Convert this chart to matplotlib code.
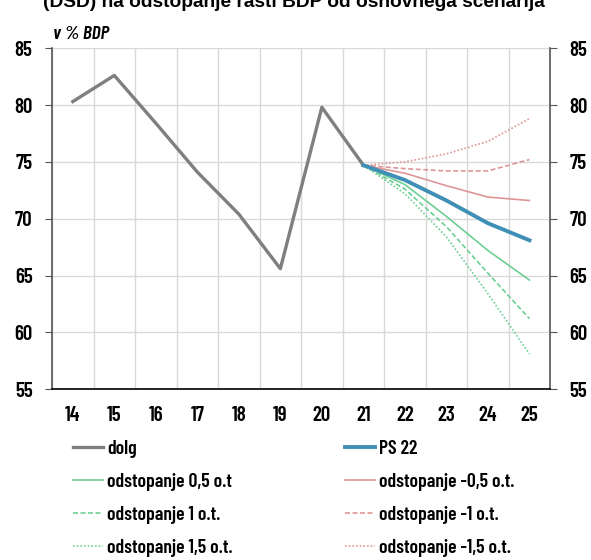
import matplotlib
matplotlib.use('Agg')
from matplotlib import pyplot as plt
import numpy as np

plt.rcParams['font.family'] = ['Barlow Condensed', 'DejaVu Sans']
plt.rcParams['font.weight'] = 500

years = ['14', '15', '16', '17', '18', '19', '20', '21', '22', '23', '24', '25']
dolg = [80.3, 82.6, 78.4, 74.1, 70.4, 65.6, 79.8, 74.7]
proj_years = ['21', '22', '23', '24', '25']
ps22 = [74.7, 73.4, 71.6, 69.6, 68.1]
gor_05 = [74.7, 73.0, 70.2, 67.2, 64.6]
gor_1 = [74.7, 72.6, 69.3, 65.2, 61.2]
gor_15 = [74.7, 72.2, 68.4, 63.4, 58.1]
dol_05 = [74.7, 74.0, 72.9, 71.9, 71.6]
dol_1 = [74.7, 74.4, 74.2, 74.2, 75.2]
dol_15 = [74.7, 75.0, 75.7, 76.8, 78.8]

siva = '#7f7f7f'
modra = '#3f8fb6'
zelena = '#6dcf93'
rdeca = '#de9696'

fig = plt.figure(figsize=(5.91, 5.6), dpi=100)
ax = fig.add_axes([0.088, 0.305, 0.843, 0.609])

x = np.arange(len(years))
xp = np.arange(years.index(proj_years[0]), len(years))

l_dolg, = ax.plot(x[:len(dolg)], dolg, color=siva, lw=2.4, label='dolg')
l_g05, = ax.plot(xp, gor_05, color=zelena, lw=1.2, label='odstopanje 0,5 o.t')
l_g1, = ax.plot(xp, gor_1, color=zelena, lw=1.2, ls=(0, (3, 1.5)), label='odstopanje 1 o.t.')
l_g15, = ax.plot(xp, gor_15, color=zelena, lw=1.2, ls=(0, (1, 1.2)), label='odstopanje 1,5 o.t.')
l_d05, = ax.plot(xp, dol_05, color=rdeca, lw=1.2, label='odstopanje -0,5 o.t.')
l_d1, = ax.plot(xp, dol_1, color=rdeca, lw=1.2, ls=(0, (3, 1.5)), label='odstopanje -1 o.t.')
l_d15, = ax.plot(xp, dol_15, color=rdeca, lw=1.2, ls=(0, (1, 1.2)), label='odstopanje -1,5 o.t.')
l_ps, = ax.plot(xp, ps22, color=modra, lw=2.8, label='PS 22')

ax.set_xlim(-0.5, 11.5)
ax.set_ylim(55, 85)
ax.set_yticks(np.arange(55, 86, 5))
ax.set_xticks(x)
ax.set_xticklabels(years)
ax.set_xticks(np.arange(-0.5, 12, 1), minor=True)
ax.grid(True, which='minor', axis='x', color='#d9d9d9', lw=1)
ax.grid(True, which='major', axis='y', color='#d9d9d9', lw=1)
ax.tick_params(axis='x', which='both', length=0, labelsize=15, pad=12)
ax.tick_params(axis='y', which='major', length=5, labelsize=15, color='#555555',
               right=True, labelright=True, direction='out', pad=9)
for t in ax.get_xticklabels() + ax.get_yticklabels():
    t.set_fontweight(600)
for tick in ax.yaxis.get_major_ticks():
    tick.label2.set_fontweight(600)
ax.set_axisbelow(True)
ax.spines['top'].set_visible(False)
for s in ['left', 'right']:
    ax.spines[s].set_color('#555555')
    ax.spines[s].set_linewidth(1.2)
ax.spines['bottom'].set_color('black')
ax.spines['bottom'].set_linewidth(1.2)

fig.text(0.09, 0.93, 'v % BDP', fontsize=14, style='italic', fontweight=600)
fig.text(0.497, 0.9875, '(DSD) na odstopanje rasti BDP od osnovnega scenarija',
         ha='center', va='baseline', fontsize=13.8, fontweight='bold',
         family=['Liberation Sans', 'DejaVu Sans'])

kw = dict(frameon=False, handlelength=1.52, handletextpad=0.2,
          labelspacing=0.76, borderpad=0, borderaxespad=0,
          prop={'size': 14.2, 'weight': 600})
leg1 = fig.legend([l_dolg, l_g05, l_g1, l_g15],
                  [h.get_label() for h in [l_dolg, l_g05, l_g1, l_g15]],
                  loc='upper left', bbox_to_anchor=(0.1235, 0.215), **kw)
leg2 = fig.legend([l_ps, l_d05, l_d1, l_d15],
                  [h.get_label() for h in [l_ps, l_d05, l_d1, l_d15]],
                  loc='upper left', bbox_to_anchor=(0.584, 0.215), **kw)

fig.savefig('out.png', dpi=100)
